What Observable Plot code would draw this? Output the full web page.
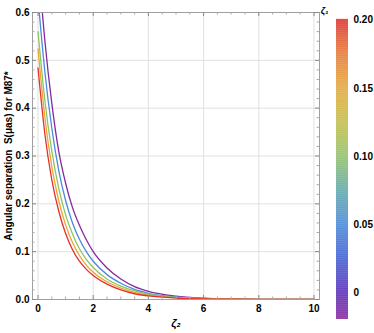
<!DOCTYPE html>
<html><head><meta charset="utf-8">
<script src="https://cdn.jsdelivr.net/npm/d3@7"></script>
<script src="https://cdn.jsdelivr.net/npm/@observablehq/plot@0.6"></script>
<style>
body{margin:0;background:#fff;}
#wrap{position:relative;width:374px;height:333px;}
#wrap svg{position:absolute;left:0;top:0;background:transparent;}
</style></head><body><div id="wrap"></div>
<script>
// ζ2 sample positions
const zeta2 = [0, 0.25, 0.5, 0.75, 1, 1.25, 1.5, 1.75, 2, 2.5, 3, 3.5, 4, 5, 6, 7, 8, 10];
// series (ζ1 legend values) and their line colours
const zeta1Values = [0, 0.05, 0.10, 0.15, 0.20];
const lineColors = ["#86299e", "#4a8ae0", "#8cc463", "#eba636", "#e2302b"];
// angular separation S (μas)
const sZeta1_000 = [0.71, 0.54, 0.41, 0.31, 0.243, 0.192, 0.155, 0.125, 0.100, 0.066, 0.043, 0.027, 0.017, 0.007, 0.0028, 0.0011, 0.0004, 0];
const sZeta1_005 = [0.63, 0.475, 0.358, 0.270, 0.207, 0.160, 0.126, 0.100, 0.080, 0.052, 0.034, 0.021, 0.013, 0.0055, 0.0022, 0.0009, 0.00035, 0];
const sZeta1_010 = [0.560, 0.415, 0.310, 0.233, 0.177, 0.137, 0.106, 0.084, 0.067, 0.043, 0.028, 0.018, 0.011, 0.0045, 0.0018, 0.0007, 0.0003, 0];
const sZeta1_015 = [0.524, 0.380, 0.278, 0.207, 0.156, 0.119, 0.092, 0.072, 0.057, 0.037, 0.024, 0.015, 0.0093, 0.0037, 0.0015, 0.0006, 0.00025, 0];
const sZeta1_020 = [0.484, 0.345, 0.250, 0.185, 0.138, 0.104, 0.080, 0.063, 0.050, 0.032, 0.020, 0.012, 0.0075, 0.003, 0.0012, 0.0005, 0.0002, 0];
// tick labels
const xTicks = [0, 2, 4, 6, 8, 10];
const xMinor = [0.5, 1, 1.5, 2.5, 3, 3.5, 4.5, 5, 5.5, 6.5, 7, 7.5, 8.5, 9, 9.5];
const yTicks = [0, 0.1, 0.2, 0.3, 0.4, 0.5, 0.6];
const yMinor = d3.range(0, 0.6, 0.02).filter(v => Math.abs(v * 10 - Math.round(v * 10)) > 1e-6);
const barTicks = [0, 0.05, 0.10, 0.15, 0.20];
const barTickLabels = ["0", "0.05", "0.10", "0.15", "0.20"];
// colour bar gradient stops
const barStops = [-0.0195, 0, 0.025, 0.05, 0.075, 0.10, 0.125, 0.15, 0.175, 0.2005];
const barColors = ["#86279a", "#5a2db8", "#3f5fd2", "#4a88d8", "#5fa9a8", "#92c06a", "#c4bd48", "#e3a83c", "#e57a35", "#dd2f2b"];

const allSeries = [sZeta1_000, sZeta1_005, sZeta1_010, sZeta1_015, sZeta1_020];
const rows = [];
allSeries.forEach((s, i) => s.forEach((v, j) => rows.push({z1: zeta1Values[i], x: zeta2[j], y: v})));

const W = 374, H = 333, mL = 32, mR = 55, mT = 12, mB = 34;
const iw = W - mL - mR, ih = H - mT - mB;
const font = "'Liberation Sans', Arial, sans-serif";

const main = Plot.plot({
  width: W, height: H,
  marginLeft: mL, marginRight: mR, marginTop: mT, marginBottom: mB,
  style: {fontFamily: font, fontSize: "10px", fontWeight: "bold", color: "#000", background: "transparent"},
  x: {domain: [-0.2, 10.2]},
  y: {domain: [0, 0.6]},
  color: {type: "ordinal", domain: zeta1Values, range: lineColors},
  marks: [
    Plot.gridX(xTicks, {stroke: "#dcdcdc", strokeOpacity: 1, strokeWidth: 0.9}),
    Plot.gridY(yTicks.slice(1, -1), {stroke: "#dcdcdc", strokeOpacity: 1, strokeWidth: 0.9}),
    Plot.line(rows, {x: "x", y: "y", z: "z1", stroke: "z1", strokeWidth: 1.3, curve: "monotone-x", clip: true}),
    Plot.frame({stroke: "#a0a0a0", strokeWidth: 1}),
    Plot.tickX(xTicks, {x: d => d, insetTop: ih - 4, stroke: "#888"}),
    Plot.tickX(xTicks, {x: d => d, insetBottom: ih - 4, stroke: "#888"}),
    Plot.tickX(xMinor, {x: d => d, insetTop: ih - 2.5, stroke: "#aaa"}),
    Plot.tickX(xMinor, {x: d => d, insetBottom: ih - 2.5, stroke: "#aaa"}),
    Plot.tickY(yTicks, {y: d => d, insetRight: iw - 4, stroke: "#888"}),
    Plot.tickY(yTicks, {y: d => d, insetLeft: iw - 4, stroke: "#888"}),
    Plot.tickY(yMinor, {y: d => d, insetRight: iw - 2.5, stroke: "#aaa"}),
    Plot.tickY(yMinor, {y: d => d, insetLeft: iw - 2.5, stroke: "#aaa"}),
    Plot.axisX(xTicks, {tickSize: 0, tickPadding: 5, label: null, fontWeight: "bold"}),
    Plot.axisY(yTicks, {tickSize: 0, tickPadding: 3, label: null, tickFormat: d3.format(".1f"), fontWeight: "bold"}),
    Plot.text(["ζ₂"], {frameAnchor: "bottom", dy: 27, fontSize: 11, fontWeight: "bold", fontStyle: "italic"}),
    Plot.text(["Angular separation  S(μas) for M87*"], {frameAnchor: "left", textAnchor: "middle", dx: -24, rotate: -90, fontSize: 10, fontWeight: "bold"})
  ]
});

const barData = d3.range(-0.0195, 0.2005, 0.0005);
const bar = Plot.plot({
  width: W, height: H,
  marginLeft: 336, marginRight: W - 348, marginTop: 19, marginBottom: H - 319,
  style: {fontFamily: font, fontSize: "10px", fontWeight: "bold", color: "#000", background: "transparent"},
  y: {domain: [-0.0195, 0.2005]},
  x: {axis: null},
  color: {type: "linear", domain: barStops, range: barColors},
  marks: [
    Plot.rectY(barData, {y1: d => d, y2: d => d + 0.0006, fill: d => d}),
    Plot.axisY(barTicks, {anchor: "right", tickSize: 0, tickPadding: 5, label: null, tickFormat: (d, i) => barTickLabels[i], fontWeight: "bold"}),
    Plot.text(["ζ₁"], {frameAnchor: "top", dx: -18, dy: -12, fontSize: 9, fontWeight: "bold", fontStyle: "italic"})
  ]
});

document.getElementById("wrap").append(main, bar);
</script></body></html>
